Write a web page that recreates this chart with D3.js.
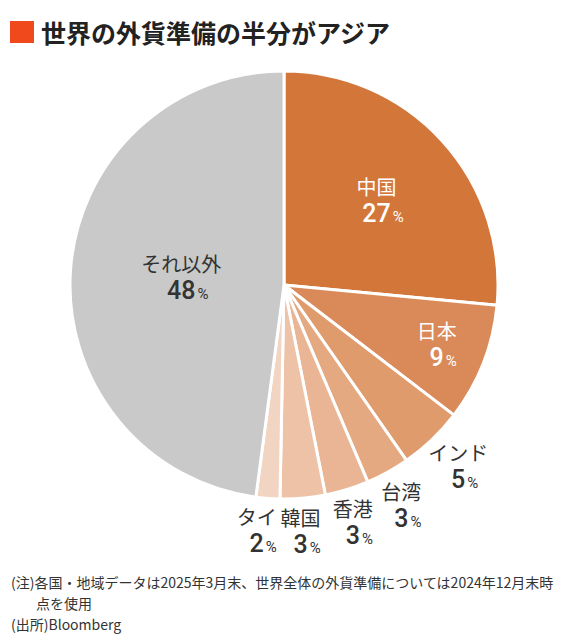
<!DOCTYPE html>
<html>
<head>
<meta charset="utf-8">
<script src="https://cdn.jsdelivr.net/npm/d3@7"></script>
<style>
  body { margin: 0; background: #fff; }
  svg { display: block; font-family: "Noto Sans CJK JP", "Noto Sans", sans-serif; }
</style>
</head>
<body>
<svg id="chart" width="570" height="640"></svg>
<script>
// shares of world FX reserves (%)
var names = ['中国', '日本', 'インド', '台湾', '香港', '韓国', 'タイ', 'それ以外'];
var shares = [26.5, 8.9, 4.9, 3.3, 3.3, 3.4, 1.8, 47.9];
var colors = ['#d3763a', '#da8a59', '#df9b6c', '#e4a981', '#e9b594', '#edc2a7', '#f2d4c2', '#c8c9c8'];
var labelRadius = [125, 164, 252, 250, 248, 248, 248, 103];
var labelNudge = [0, 0, 0, 1, 1, 1.2, 2, 0]; // degrees, clockwise
var notes = [
    '(注)各国・地域データは2025年3月末、世界全体の外貨準備については2024年12月末時',
    '点を使用',
    '(出所)Bloomberg'
];

var svg = d3.select('#chart');
var cx = 284, cy = 285, R = 214;

// title
svg.append('rect').attr('x', 10).attr('y', 21).attr('width', 24).attr('height', 22).attr('fill', '#f04a1c');
svg.append('text').attr('x', 41).attr('y', 43)
    .attr('font-size', 25).attr('font-weight', 700).attr('fill', '#222')
    .text('世界の外貨準備の半分がアジア');

var data = names.map(function(n, i) { return {name: n, value: shares[i], i: i}; });
var pie = d3.pie().sort(null).value(function(d) { return d.value; });
var arcs = pie(data);
var arc = d3.arc().innerRadius(0).outerRadius(R);

var g = svg.append('g').attr('transform', 'translate(' + cx + ',' + cy + ')');

g.selectAll('path.slice')
    .data(arcs)
    .enter().append('path')
    .attr('class', 'slice')
    .attr('d', arc)
    .attr('fill', function(d) { return colors[d.data.i]; })
    .attr('stroke', '#fff')
    .attr('stroke-width', 3)
    .attr('stroke-linejoin', 'round');

var label = g.selectAll('g.label')
    .data(arcs)
    .enter().append('g')
    .attr('class', 'label')
    .attr('transform', function(d) {
        var r = labelRadius[d.data.i];
        var a = (d.startAngle + d.endAngle) / 2 + labelNudge[d.data.i] * Math.PI / 180;
        return 'translate(' + (r * Math.sin(a)) + ',' + (-r * Math.cos(a)) + ')';
    })
    .attr('fill', function(d) { return d.data.i < 2 ? '#fff' : '#333'; })
    .attr('text-anchor', 'middle');

label.append('text')
    .attr('y', -6)
    .attr('font-size', 20)
    .text(function(d) { return d.data.name; });

var val = label.append('text')
    .attr('y', 21)
    .attr('font-family', 'Roboto, "Liberation Sans", sans-serif')
    .attr('font-weight', 500);
val.append('tspan').attr('font-size', 25).text(function(d) { return Math.round(d.data.value); });
val.append('tspan').attr('class', 'pct').attr('font-size', 15).attr('font-weight', 400).attr('dx', 2).text('%');

// keep the number centred under the name, % hangs to the right
val.each(function() {
    var w = d3.select(this).select('.pct').node().getComputedTextLength();
    d3.select(this).attr('x', (w + 2) / 2);
});

// footnotes
svg.selectAll('text.note')
    .data(notes)
    .enter().append('text')
    .attr('class', 'note')
    .attr('x', function(d, i) { return i === 1 ? 36 : 11; })
    .attr('y', function(d, i) { return 588 + i * 21; })
    .attr('font-size', 14)
    .attr('fill', '#333')
    .text(function(d) { return d; });
</script>
</body>
</html>
